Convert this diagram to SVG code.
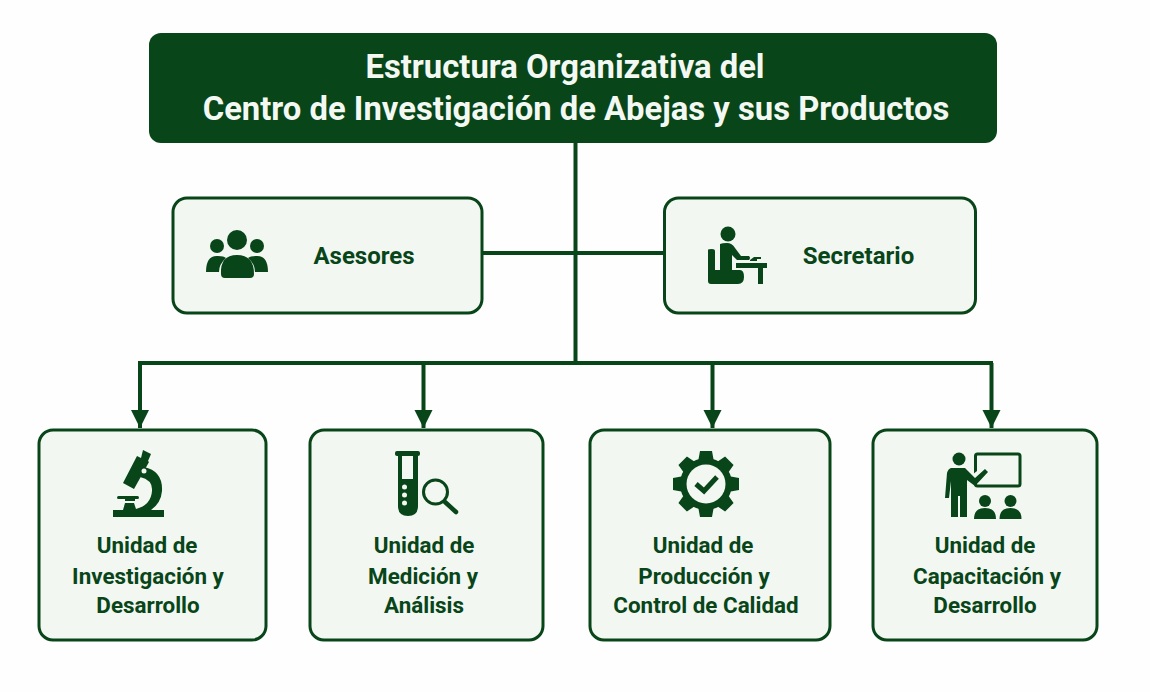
<svg xmlns="http://www.w3.org/2000/svg" width="1150" height="692" viewBox="0 0 1150 692">
<defs>
<marker id="arrow" markerUnits="userSpaceOnUse" markerWidth="20" markerHeight="20" refX="18" refY="10" orient="auto"><path d="M0 1L18 10L0 19Z" fill="#084519"/></marker>
</defs>
<style>
.card{fill:#f2f7f1;stroke:#084519;stroke-width:3}
.lbl{font-family:"Roboto","Liberation Sans",sans-serif;font-weight:700;font-size:22.400px;fill:#084519;text-anchor:middle}
.big{font-size:24px}
.ttl{font-family:"Roboto","Liberation Sans",sans-serif;font-weight:700;font-size:32.800px;fill:#f4f8f2;text-anchor:middle}
.ic{fill:#084519}
.ln{fill:none;stroke:#084519;stroke-width:4}
</style>
<rect width="1150" height="692" fill="#fefefe"/>
<g id="connectors" class="ln">
<path d="M575.500 142V362"/>
<path d="M482 253H664"/>
<path d="M138 363H993"/>
<path d="M140 363V428" marker-end="url(#arrow)"/>
<path d="M423.500 363V428" marker-end="url(#arrow)"/>
<path d="M712.500 363V428" marker-end="url(#arrow)"/>
<path d="M991.500 363V428" marker-end="url(#arrow)"/>
</g>
<g id="titulo">
<rect x="149" y="33" width="848" height="110" rx="12" fill="#084519"/>
<text class="ttl" x="565" y="78">Estructura Organizativa del</text>
<text class="ttl" x="576" y="120">Centro de Investigación de Abejas y sus Productos</text>
</g>
<g id="asesores">
<rect class="card" x="173" y="198" width="309" height="115" rx="14"/>
<g class="ic">
<circle cx="217" cy="246" r="7"/><circle cx="257" cy="246" r="7"/><circle cx="237" cy="240" r="10"/>
<path d="M206 272Q206 255 218 256Q224 256 226 258Q219 264 219 272Z"/>
<path d="M268 272Q268 255 256 256Q250 256 248 258Q255 264 255 272Z"/>
<path d="M221 274Q220 255 237 255Q254 255 254 274Q254 278 250 278H225Q221 278 221 274Z"/>
</g>
<text class="lbl big" x="364" y="264">Asesores</text>
</g>
<g id="secretario">
<rect class="card" x="664.500" y="198" width="311" height="115" rx="14"/>
<g class="ic">
<circle cx="728" cy="234" r="7.500"/>
<path d="M708 250Q708 249 712 249Q715 249 715 251V270H740Q744 270 744 277Q744 284 738 284H711Q708 284 708 281Z"/>
<path d="M720 244Q722 243 727 243Q732 243 735 248L741 256H749Q751 258 749 260H737L732 255V272Q726 272 720 270Z"/>
<path d="M736 263H767V268H763V284H758V268H736Z"/>
<path d="M750 260L754 257H761V259H757V261H750Z"/>
</g>
<text class="lbl big" x="858.500" y="264">Secretario</text>
</g>
<g id="unidad-id">
<rect class="card" x="39" y="430" width="227" height="210" rx="14"/>
<g class="ic">
<path d="M123 483L137 456L141 458L143 450L151 454L148 461L149 462L134 489Z"/>
<path d="M144 467Q163 471 162 491Q161 503 151 510H164V517H113V510H123L125 503H134L136 509Q151 505 152 491Q153 480 140 477Z"/>
<rect x="117" y="496" width="22" height="3" rx="1.500"/>
<rect x="125" y="499" width="10" height="2"/>
</g>
<circle cx="144" cy="471" r="2.500" fill="#f2f7f1"/>
<text class="lbl" x="147" y="553">Unidad de</text>
<text class="lbl" x="148" y="584">Investigación y</text>
<text class="lbl" x="148" y="613">Desarrollo</text>
</g>
<g id="unidad-ma">
<rect class="card" x="310" y="430" width="233" height="210" rx="14"/>
<g class="ic">
<rect x="395" y="451" width="25" height="5" rx="2"/>
<path d="M398 456H402V479H413V456H418V506Q418 516 408 516Q398 516 398 506Z"/>
</g>
<circle cx="404.500" cy="487" r="2.500" fill="#f2f7f1"/><circle cx="404.500" cy="495" r="2.500" fill="#f2f7f1"/><circle cx="404.500" cy="503" r="2.500" fill="#f2f7f1"/>
<circle cx="435.500" cy="492" r="12" fill="none" stroke="#084519" stroke-width="3"/>
<path d="M445 502L456 512" stroke="#084519" stroke-width="4.500" stroke-linecap="round"/>
<text class="lbl" x="424" y="553">Unidad de</text>
<text class="lbl" x="423" y="584">Medición y</text>
<text class="lbl" x="424" y="613">Análisis</text>
</g>
<g id="unidad-pc">
<rect class="card" x="590" y="430" width="240" height="210" rx="14"/>
<g class="ic">
<path d="M700 451H712L714 462H698ZM700 517H712L714 506H698ZM673 478V490L684 492V476ZM739 478V490L728 492V476Z"/>
<path d="M700 451H712L714 462H698ZM700 517H712L714 506H698ZM673 478V490L684 492V476ZM739 478V490L728 492V476Z" transform="rotate(45 706 484)"/>
<circle cx="706" cy="484" r="26"/>
</g>
<circle cx="706" cy="484" r="19.500" fill="#f2f7f1"/>
<path d="M696 484L704 491L717 477" fill="none" stroke="#084519" stroke-width="5"/>
<text class="lbl" x="703" y="553">Unidad de</text>
<text class="lbl" x="704" y="584">Producción y</text>
<text class="lbl" x="706" y="613">Control de Calidad</text>
</g>
<g id="unidad-cd">
<rect class="card" x="873" y="430" width="224" height="210" rx="14"/>
<rect x="975.500" y="454" width="44.500" height="32" rx="2" fill="none" stroke="#084519" stroke-width="3"/>
<path d="M972 480L985 470" fill="none" stroke="#f2f7f1" stroke-width="8"/>
<g class="ic">
<circle cx="959" cy="459" r="6.500"/>
<path d="M951 468H965L975 478L985 469L988 472L975 486L967 480V517H960V496H958V517H951V481L949 498H945L947 473Q948 469 951 468Z"/>
<circle cx="985" cy="501" r="6"/><circle cx="1010.500" cy="501" r="6"/>
<path d="M974 519Q974 508 985 508Q996 508 996 519ZM999.500 519Q999.500 508 1010.500 508Q1021.500 508 1021.500 519Z"/>
</g>
<text class="lbl" x="985" y="553">Unidad de</text>
<text class="lbl" x="987" y="584">Capacitación y</text>
<text class="lbl" x="985" y="613">Desarrollo</text>
</g>
</svg>
